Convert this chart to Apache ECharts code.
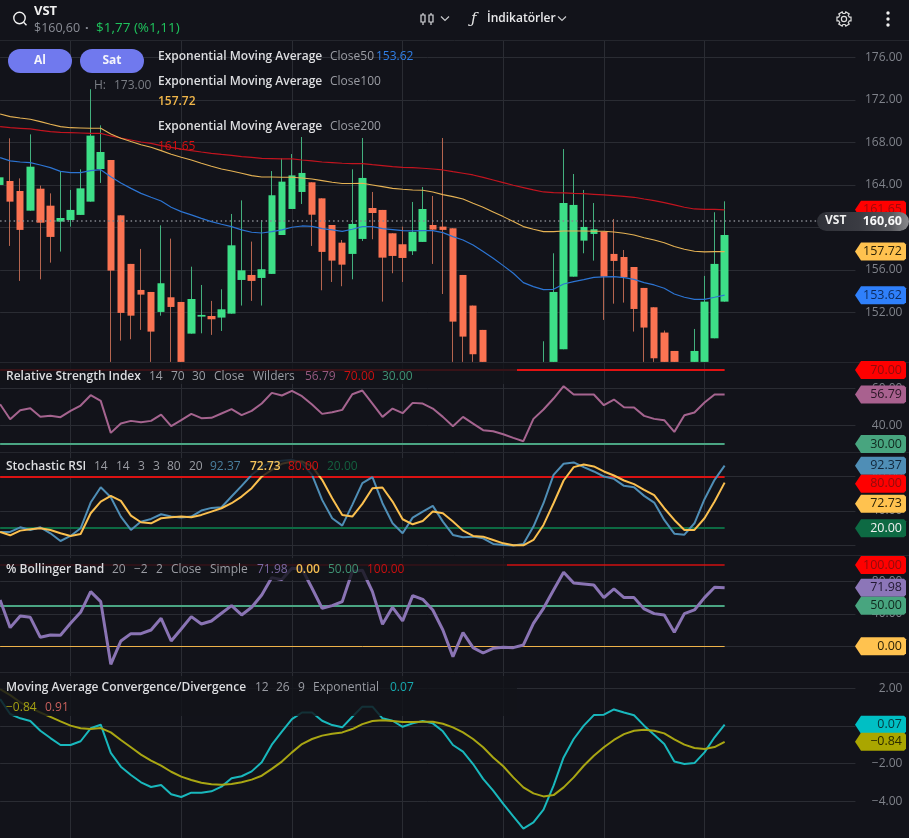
<!DOCTYPE html>
<html><head><meta charset="utf-8">
<style>html,body{margin:0;padding:0;background:#12131a;overflow:hidden}#c{width:909px;height:838px}</style>
<script src="https://cdn.jsdelivr.net/npm/echarts@6/dist/echarts.min.js"></script>
</head><body><div id="c"></div>
<script>
// ---------- data ----------
const barCount = 73, slotCount = 86;
const categories = Array.from({length: slotCount}, (_, i) => String(i));
const gridColumns = [7, 18, 29, 40, 50, 60, 70];
// [open, close, low, high]; bars whose lower part runs out of the price pane are read down to its floor, 147.34
const candles = [
[163.99,164.71,161.64,167.91],[164.36,162.42,158.25,168.38],[163.42,159.76,154.96,164.61],[161.57,165.71,161.57,168.75],
[163.64,160.44,155.11,163.93],[162.04,159.10,156.68,163.20],[160.54,160.88,157.72,165.24],[160.69,161.64,160.07,163.52],
[161.17,163.67,161.17,165.46],[162.42,168.63,162.42,173.00],[165.49,167.09,164.18,169.60],[166.34,155.93,147.34,166.34],
[161.13,151.95,149.34,161.13],[156.56,151.69,149.47,156.56],[154.11,153.67,150.35,157.97],[153.92,150.19,147.34,153.92],
[152.04,154.74,151.69,160.19],[153.42,152.51,147.34,158.94],[152.98,147.34,147.34,152.98],[150.00,153.26,150.00,156.30],
[151.60,151.76,150.03,154.58],[151.66,151.35,149.88,153.08],[151.51,152.29,150.25,154.17],[151.88,158.31,151.88,161.26],
[155.05,155.96,152.64,162.54],[155.52,154.96,153.08,158.66],[155.24,156.06,152.64,160.69],[155.62,163.02,155.62,165.30],
[159.28,164.30,159.28,166.49],[161.73,164.89,161.73,166.90],[163.33,165.12,162.20,168.50],[164.24,161.19,158.25,164.24],
[162.73,157.69,154.08,162.73],[160.22,156.87,154.86,160.22],[158.56,156.49,154.46,158.81],[157.50,160.32,155.11,165.46],
[158.91,164.65,158.72,168.41],[161.82,161.35,158.88,163.33],[161.64,157.15,153.01,161.64],[159.44,157.31,155.68,159.44],
[158.41,157.12,154.86,160.07],[157.75,159.57,157.40,162.39],[158.63,161.73,158.63,163.80],[160.22,159.79,156.56,162.95],
[160.07,159.76,153.73,168.41],[159.91,151.13,147.34,159.91],[155.52,149.72,147.34,155.52],[152.64,148.06,147.34,152.64],
[150.35,147.34,147.34,150.35],[147.00,146.50,146.00,147.10],[146.60,146.00,145.50,147.00],[146.00,145.50,145.00,146.80],
[145.50,146.00,145.00,147.00],[146.00,146.60,145.50,147.10],[147.34,147.34,147.34,149.28],[147.34,153.92,147.34,157.56],
[148.53,162.29,148.53,167.37],[155.36,162.11,155.36,165.02],[158.75,160.04,157.56,163.52],[159.38,159.82,156.87,162.29],
[159.60,155.36,151.29,159.60],[157.50,156.84,152.82,160.79],[157.21,155.30,152.92,157.87],[156.27,152.32,150.19,156.27],
[154.30,150.57,147.34,154.30],[152.48,147.68,147.34,152.48],[150.10,147.34,147.34,150.29],[148.37,147.34,147.34,148.37],
[147.00,146.60,146.20,147.10],[147.34,148.37,147.34,150.44],[147.34,153.01,147.34,155.43],[149.56,156.56,149.56,161.42],
[153.01,159.28,153.01,162.45]];
const ema50 = [166.56,166.25,166.15,166.09,165.87,165.62,165.27,165.15,165.15,165.34,165.43,164.77,164.18,163.67,163.20,162.83,162.48,161.89,161.48,161.17,160.85,160.54,160.29,160.07,159.76,159.54,159.47,159.60,159.76,160.01,160.13,160.10,159.88,159.76,159.63,159.82,160.07,160.07,159.88,159.79,159.69,159.66,159.69,159.69,159.50,159.13,158.81,158.34,157.72,157.09,156.40,155.68,154.80,154.42,154.14,154.17,154.67,154.89,155.08,155.30,155.34,155.36,155.27,155.11,154.80,154.58,154.27,153.73,153.42,153.23,153.23,153.42,153.62];
const ema100 = [170.67,170.42,170.29,170.17,169.95,169.70,169.48,169.38,169.35,169.32,169.32,168.79,168.38,168.07,167.78,167.53,167.22,166.87,166.59,166.34,166.03,165.75,165.49,165.30,165.09,164.87,164.74,164.74,164.71,164.71,164.65,164.55,164.40,164.24,164.12,164.12,164.15,163.99,163.83,163.67,163.58,163.52,163.49,163.33,163.08,162.89,162.67,162.26,161.89,161.45,161.01,160.54,160.07,159.82,159.60,159.60,159.66,159.66,159.66,159.63,159.63,159.57,159.44,159.28,159.03,158.81,158.56,158.19,157.94,157.75,157.69,157.72,157.72];
const ema200 = [169.48,169.38,169.32,169.26,169.13,169.01,168.94,168.91,168.88,168.85,168.85,168.60,168.41,168.22,168.03,167.91,167.69,167.53,167.37,167.22,167.09,166.97,166.87,166.78,166.65,166.59,166.50,166.47,166.44,166.44,166.34,166.25,166.15,166.09,166.03,166.00,166.00,165.90,165.81,165.71,165.65,165.62,165.56,165.49,165.40,165.24,165.09,164.93,164.71,164.46,164.21,163.96,163.74,163.52,163.33,163.27,163.24,163.20,163.17,163.11,163.05,162.99,162.92,162.83,162.67,162.52,162.33,162.11,161.89,161.73,161.70,161.70,161.65];
const rsi = [51.51,43.40,48.27,49.35,44.67,45.21,44.49,47.91,50.79,56.38,53.32,36.02,41.06,42.50,41.78,42.50,45.93,39.62,42.86,46.29,43.95,44.13,46.47,48.81,45.57,47.91,51.87,57.64,56.20,58.72,55.84,51.33,46.29,47.19,48.45,56.92,58.90,51.87,44.67,49.17,46.65,52.23,51.87,49.17,44.67,39.62,44.67,41.06,37.46,36.92,35.30,33.31,31.51,43.58,48.63,54.58,61.24,56.74,56.74,56.74,50.97,54.04,49.89,49.71,45.21,43.58,42.86,36.56,45.57,47.01,52.41,56.74,56.79];
const stochK = [15.66,15.66,21.07,17.98,21.07,14.11,5.22,11.02,19.92,49.69,67.48,55.88,33.45,17.98,27.65,30.74,36.16,33.45,32.29,33.45,40.41,43.51,44.28,56.65,69.03,81.79,90.68,96.49,98.03,99.19,95.33,81.79,52.79,31.52,23.01,47.02,72.12,79.08,48.92,25.72,14.11,32.29,39.25,45.83,27.65,12.18,9.48,10.25,8.31,1.74,0.58,0.00,1.74,21.85,48.92,81.79,94.55,96.10,90.68,85.66,79.85,77.15,69.03,67.48,57.43,49.69,29.58,13.73,12.57,25.72,53.56,76.00,92.37];
const stochD = [15.66,11.80,17.21,18.76,19.92,17.98,14.11,11.02,13.34,37.32,50.85,57.43,51.62,34.61,26.87,25.72,31.52,32.68,33.45,32.68,35.38,39.25,43.12,48.92,56.65,66.32,79.85,87.59,94.55,97.26,97.26,91.46,76.00,54.72,35.38,33.45,48.15,66.32,67.09,50.85,30.36,24.56,28.42,39.25,37.32,27.65,17.21,11.02,10.25,6.38,2.51,0.20,0.20,6.38,23.78,48.92,75.21,90.68,93.78,91.46,85.66,81.01,75.21,70.96,64.39,58.20,43.12,29.58,17.98,17.98,31.52,50.85,72.73];
const percentB = [57.01,22.96,37.32,35.67,11.06,13.93,13.52,28.29,41.83,67.27,54.96,-22.18,6.54,15.57,15.57,20.08,34.44,6.54,21.31,36.50,27.47,31.16,40.60,50.03,38.55,47.98,63.16,84.50,82.04,95.99,95.17,71.37,46.75,50.03,54.96,91.89,93.53,67.27,27.06,47.98,31.16,62.34,57.83,44.70,20.08,-12.74,16.80,-1.66,-8.23,-2.48,-1.25,-1.66,1.62,28.29,46.75,69.32,91.06,77.93,76.70,75.47,59.88,70.55,59.88,59.88,45.93,40.19,38.55,17.21,40.19,44.70,59.88,72.60,71.98];
const macd = [1.43,0.64,0.41,0.27,-0.25,-0.64,-1.01,-1.01,-0.81,-0.12,0.07,-1.43,-2.16,-2.60,-2.99,-3.24,-3.13,-3.63,-3.77,-3.54,-3.54,-3.47,-3.22,-2.78,-2.67,-2.41,-1.93,-0.99,-0.30,0.37,0.72,0.72,0.28,0.05,-0.07,0.49,1.03,1.03,0.41,0.28,-0.04,0.14,0.27,0.14,-0.28,-1.01,-1.36,-2.02,-2.81,-3.43,-4.14,-4.80,-5.45,-5.12,-4.44,-3.17,-1.67,-0.69,0.02,0.58,0.60,0.88,0.72,0.57,0.02,-0.46,-0.96,-1.89,-2.02,-1.97,-1.40,-0.60,0.07];
const signal = [1.96,1.64,1.26,0.96,0.72,0.49,0.25,0.02,-0.12,-0.16,-0.11,-0.34,-0.74,-1.13,-1.52,-1.84,-2.11,-2.43,-2.69,-2.87,-3.01,-3.10,-3.12,-3.08,-2.99,-2.85,-2.64,-2.28,-1.89,-1.40,-0.96,-0.69,-0.51,-0.41,-0.34,-0.16,0.10,0.27,0.30,0.27,0.21,0.21,0.23,0.23,0.12,-0.07,-0.34,-0.69,-1.13,-1.67,-2.14,-2.73,-3.26,-3.58,-3.74,-3.67,-3.26,-2.73,-2.11,-1.58,-1.13,-0.74,-0.43,-0.25,-0.20,-0.25,-0.39,-0.71,-0.99,-1.17,-1.22,-1.12,-0.84];
const lastPrice = 160.60;
const priceTicks = [152,156,160,164,168,172,176];
const rsiTicks = [40,60];
const stochTicks = [0,40,80];
const stochLabels = [40,80];
const bbTicks = [0,40,80];
const macdTicks = [-4,-2,0,2];
// ---------- styling and layout ----------
const BG='#12131a', GRID='#2a2c33', AXT='#7f828a';
const FONT='"Open Sans"';
const GREEN='#3ddf87', RED='#fb7352';
const panes=[
 {top:40, bottom:362, min:147.33, max:177.63, ticks:priceTicks},
 {top:362,bottom:452, min:25.68,  max:74.32,  ticks:rsiTicks},
 {top:452,bottom:555, min:-11.0,  max:108.2,  ticks:stochTicks, labels:stochLabels},
 {top:555,bottom:672, min:-31.6,  max:112.3,  ticks:bbTicks},
 {top:672,bottom:838, min:-5.95,  max:2.87,   ticks:macdTicks}];
const grid=panes.map(p=>({left:0.1,width:855.35,top:p.top,height:p.bottom-p.top}));
const xAxis=panes.map((p,i)=>({type:'category',gridIndex:i,data:categories,boundaryGap:false,
  axisLine:{show:false},axisTick:{show:false},axisLabel:{show:false},
  splitLine:{show:true,interval:idx=>gridColumns.includes(+idx),lineStyle:{color:GRID,width:1}}}));
const yAxis=panes.map((p,i)=>({type:'value',gridIndex:i,position:'right',min:p.min,max:p.max,
  axisLine:{show:false},axisTick:{show:false,customValues:p.ticks},
  axisLabel:{show:true,customValues:p.labels||p.ticks,margin:47,align:'right',color:AXT,fontFamily:FONT,fontSize:12,
    formatter:v=>v.toFixed(2).replace('-','\u2212')},
  splitLine:{show:true,lineStyle:{color:GRID,width:1}}}));
function line(i,data,color,width,extra){
  return Object.assign({type:'line',xAxisIndex:i,yAxisIndex:i,data,showSymbol:false,symbol:'none',
    lineStyle:{color,width},silent:true,z:5},extra||{});
}
function levels(list){ // horizontal level lines, ending at the last bar
  return {markLine:{silent:true,symbol:'none',label:{show:false},animation:false,
    data:list.map(([v,c,w])=>[{coord:['0',v],lineStyle:{color:c,width:w,type:'solid'}},{coord:[String(barCount-1),v]}])}};
}
function tags(i,list){ // value tags stuck on the price axis; t[3] is how far a crowded tag is pushed down
  return {type:'custom',xAxisIndex:i,yAxisIndex:i,clip:false,silent:true,z:50,
    data:list.map(t=>[0,t[0]]),encode:{x:0,y:1},
    renderItem(params,api){
      const t=list[params.dataIndex], y=api.coord([0,t[0]])[1]+(t[3]||0), h=9;
      const x0=855,x1=861,x2=906;
      return {type:'group',children:[
       {type:'polygon',shape:{points:[[x0,y],[x1,y-h],[x2-2,y-h],[x2,y-h+2],[x2,y+h-2],[x2-2,y+h],[x1,y+h]]},style:{fill:t[1]}},
       {type:'text',style:{x:902,y:y,text:t[0].toFixed(2).replace('-','\u2212'),fill:t[2],font:'12.5px '+FONT,align:'right',verticalAlign:'middle'}}
      ]};
    }};
}
const bodies=candles.map(([o,c])=>[o,c,Math.min(o,c),Math.max(o,c)]);
const series=[
 {type:'candlestick',xAxisIndex:0,yAxisIndex:0,data:candles,barWidth:1,silent:true,z:3,
  itemStyle:{color:'#43b07e',color0:'#b5654f',borderColor:'#43b07e',borderColor0:'#b5654f',borderWidth:1},
  markLine:{silent:true,symbol:'none',label:{show:false},animation:false,
    data:[{yAxis:lastPrice,lineStyle:{color:'#85878e',width:1.5,type:[1.5,3]}}]}},
 {type:'candlestick',xAxisIndex:0,yAxisIndex:0,data:bodies,barWidth:8,silent:true,z:3.5,
  itemStyle:{color:GREEN,color0:RED,borderColor:GREEN,borderColor0:RED,borderWidth:0}},
 line(0,ema200,'#c2141f',1.2),
 line(0,ema100,'#e5b254',1.1),
 line(0,ema50,'#2c74d2',1.2),
 tags(0,[[ema200[72],'#ff0000','#9c0a0a'],[ema100[72],'#ffc24f','#2b2208'],[ema50[72],'#2f80fb','#0c2a5c']]),
 Object.assign(line(1,rsi,'#a5648f',2),levels([[70,'#e31212',2],[30,'#4aa583',2]])),
 tags(1,[[70,'#ff0000','#8f0c0c'],[rsi[72],'#a9618f','#2a1625'],[30,'#48a57f','#10291f']]),
 Object.assign(line(2,stochK,'#4f8eb6',2),levels([[80,'#dc1212',2],[20,'#0d6a43',2]])),
 line(2,stochD,'#fbc04f',2,{z:6}),
 tags(2,[[stochK[72],'#4f8eb6','#12263a'],[80,'#ff0000','#8f0c0c',7.5],[stochD[72],'#ffc24f','#2b2208',21],[20,'#0d6a43','#f2f2f2']]),
 Object.assign(line(3,percentB,'#8a74b4',3),levels([[100,'#d01010',1.5],[50,'#4aa583',2],[0,'#eeb24a',1]])),
 tags(3,[[100,'#ff0000','#8f0c0c'],[percentB[72],'#8c76b8','#221a33'],[50,'#48a57f','#10291f'],[0,'#ffc24f','#2b2208']]),
 line(4,macd,'#19b8bd',2),
 line(4,signal,'#a9a613',2,{z:6}),
 tags(4,[[macd[72],'#00bfc4','#06383b'],[signal[72],'#aaa600','#2c2b00']])
];
// ---------- overlays: toolbar, legends, buttons ----------
const els=[];
function T(text,x,y,fill,size,weight,extra){
  els.push({type:'text',x,y,z:102,silent:true,style:Object.assign({text,fill,font:(weight||400)+' '+(size||12)+'px '+FONT,verticalAlign:'middle',align:'left'},extra||{})});
}
function veil(x,y,w,h){els.push({type:'rect',z:60,silent:true,shape:{x,y,width:w,height:h},style:{fill:'rgba(18,19,26,0.82)'}});}
function rule(x1,y1,x2,y2,c){els.push({type:'line',z:4,silent:true,shape:{x1,y1,x2,y2},style:{stroke:c||GRID,lineWidth:1}});}
[40,362,452,555,672].forEach(y=>rule(0,y+.5,909,y+.5,'#24262d'));
veil(0,363,517,21); veil(0,458,461,18); veil(0,558,507,22); veil(0,676,517,40);
const TXT='#dcdde0', SUB='#9a9ca3';
// toolbar
els.push({type:'circle',z:102,silent:true,shape:{cx:19.5,cy:18,r:5.7},style:{fill:'none',stroke:'#f2f2f2',lineWidth:1.4}});
els.push({type:'line',z:102,silent:true,shape:{x1:23.6,y1:22.2,x2:26.5,y2:25.2},style:{stroke:'#f2f2f2',lineWidth:1.4}});
T('VST',34,11,'#f0f0f0',13,700);
T('$160,60',34,28,'#8a8d96',12.5,400);
T('\u00b7',85,28,'#8a8d96',13,700);
T('$1,77 (%1,11)',96,28,'#1fc45d',13.5,500);
const ico={stroke:'#d8d9dc',lineWidth:1.2,fill:'none'};
[[423,15,22,13,25],[431,15,22,13,25]].forEach(([x,a,b,c,d])=>{
  els.push({type:'rect',z:102,silent:true,shape:{x:x-2,y:a,width:4,height:b-a},style:ico});
  els.push({type:'line',z:102,silent:true,shape:{x1:x,y1:c,x2:x,y2:a},style:ico});
  els.push({type:'line',z:102,silent:true,shape:{x1:x,y1:b,x2:x,y2:d},style:ico});
});
function chev(x,y){els.push({type:'polyline',z:102,silent:true,shape:{points:[[x-4,y-2],[x,y+2],[x+4,y-2]]},style:{stroke:'#c8c9cc',lineWidth:1.2,fill:'none'}});}
chev(445,18.5); chev(562,18.5);
T('\u0192',471,19,'#e5e5e5',15,400,{font:'italic 400 15px "DejaVu Serif"'});
T('\u0130ndikat\u00f6rler',487,19,'#e8e8ea',12,600);
const gearPts=[]; for(let k=0;k<6;k++){const a=Math.PI/3*k-Math.PI/6;
  [[-0.33,7.3],[-0.14,5.6],[0.14,5.6],[0.33,7.3]].forEach(([d,r],j)=>{
    const aa=a+(j<2?-0.19:0.19)+(j==0?-0.06:j==3?0.06:0);gearPts.push([844+r*Math.cos(aa),19+r*Math.sin(aa)]);});}
els.push({type:'polygon',z:102,silent:true,shape:{points:gearPts},style:{stroke:'#dcdcdc',lineWidth:1.2,fill:'none'}});
els.push({type:'circle',z:102,silent:true,shape:{cx:844,cy:19,r:2.6},style:{stroke:'#dcdcdc',lineWidth:1.2,fill:'none'}});
[13,19,25].forEach(y=>els.push({type:'circle',z:102,silent:true,shape:{cx:888,cy:y,r:1.7},style:{fill:'#f0f0f0'}}));
// buttons
[[8,'Al',40],[80,'Sat',112]].forEach(([x,t,cx])=>{
  els.push({type:'rect',z:101,silent:true,shape:{x,y:49,width:64,height:24,r:12},style:{fill:'#7079ee'}});
  T(t,cx,61,'#f4f4fb',12,700,{align:'center'});
});
// main legends
T('H:',94,85.5,'#7b7e85',12); T('173.00',114,85.5,'#7b7e85',12);
const EMA='Exponential Moving Average';
T(EMA,158,57,TXT,12,600); T('Close50',330,57,SUB,12); T('153.62',376,57,'#2f7fe8',12);
T(EMA,158,82,TXT,12,600); T('Close100',330,82,SUB,12); T('157.72',158,101.5,'#f0b64a',12,600);
T(EMA,158,127,TXT,12,600); T('Close200',330,127,SUB,12); T('161.65',158,146.5,'#d80f0f',12);
// indicator legends
function row(y,title,tokens){T(title,6,y,TXT,12,600);tokens.forEach(([t,x,c,w])=>T(t,x,y,c||SUB,12,w||400));}
row(376.5,'Relative Strength Index',[['14',149],['70',171],['30',192],['Close',214],['Wilders',253],['56.79',305,'#96597f'],['70.00',344,'#cc1010'],['30.00',382,'#3f9273']]);
row(466.5,'Stochastic RSI',[['14',94],['14',116],['3',138],['3',153],['80',167],['20',189],['92.37',210,'#4a7f9f'],['72.73',250,'#f5c45c',600],['80.00',288,'#d10f0f'],['20.00',327,'#14603f']]);
row(569.5,'% Bollinger Band',[['20',112],['\u22122',134],['2',156],['Close',171],['Simple',210],['71.98',257,'#7d6aa5'],['0.00',296,'#f2bb50',600],['50.00',328,'#3f9273'],['100.00',367,'#c80f0f']]);
row(687.5,'Moving Average Convergence/Divergence',[['12',255],['26',276],['9',298],['Exponential',313],['0.07',390,'#17a9ae']]);
T('\u22120.84',6,707.5,'#a3a012',12); T('0.91',45,707.5,'#c9605c',12);
// last-price pill
els.push({type:'rect',z:110,silent:true,shape:{x:817,y:212,width:92,height:19,r:9.5},
  style:{fill:{type:'linear',x:0,y:0,x2:1,y2:0,colorStops:[{offset:0,color:'#2f3138'},{offset:.45,color:'#3a3b42'},{offset:.8,color:'#56575c'},{offset:1,color:'#8b8b8e'}]}}});
els.push({type:'text',x:825,y:221,z:111,silent:true,style:{text:'VST',fill:'#f0f0f0',font:'700 12px '+FONT,verticalAlign:'middle'}});
els.push({type:'text',x:902,y:221,z:111,silent:true,style:{text:'160,60',fill:'#f8f8f8',font:'700 12.5px '+FONT,align:'right',verticalAlign:'middle'}});
const chart=echarts.init(document.getElementById('c'),null,{renderer:'canvas'});
chart.setOption({backgroundColor:BG,animation:false,grid,xAxis,yAxis,series,graphic:{elements:els}});
</script></body></html>
